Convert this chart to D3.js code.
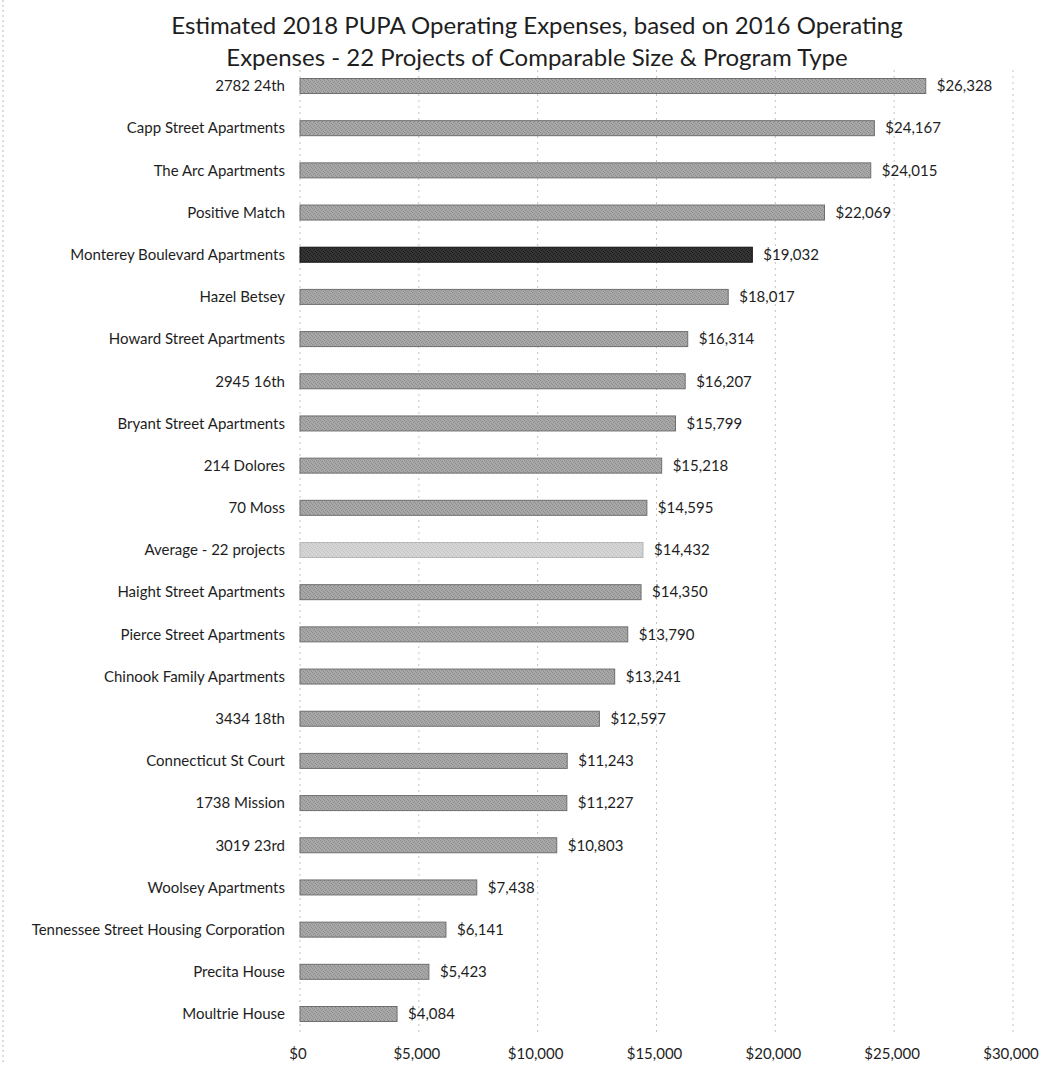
<!DOCTYPE html>
<html>
<head>
<meta charset="utf-8">
<script src="https://cdn.jsdelivr.net/npm/d3@7"></script>
<style>
  body { margin: 0; background: #fff; }
  text { font-family: Lato, "Open Sans", sans-serif; fill: #1e1e1e; }
</style>
</head>
<body>
<script>
const projects = ['2782 24th', 'Capp Street Apartments', 'The Arc Apartments', 'Positive Match',
  'Monterey Boulevard Apartments', 'Hazel Betsey', 'Howard Street Apartments', '2945 16th',
  'Bryant Street Apartments', '214 Dolores', '70 Moss', 'Average - 22 projects',
  'Haight Street Apartments', 'Pierce Street Apartments', 'Chinook Family Apartments', '3434 18th',
  'Connecticut St Court', '1738 Mission', '3019 23rd', 'Woolsey Apartments',
  'Tennessee Street Housing Corporation', 'Precita House', 'Moultrie House']
const expenses = [26328, 24167, 24015, 22069, 19032, 18017, 16314, 16207, 15799, 15218, 14595, 14432,
  14350, 13790, 13241, 12597, 11243, 11227, 10803, 7438, 6141, 5423, 4084]
const ticks = [0, 5000, 10000, 15000, 20000, 25000, 30000]
const highlighted = 'Monterey Boulevard Apartments'
const averageRow = 'Average - 22 projects'

const width = 1046, height = 1065
const barH = 15

const svg = d3.select('body').append('svg')
  .attr('width', width).attr('height', height)

// speckled fill, like the scanned print
const defs = svg.append('defs')
function speckle(id, base, dot) {
  const p = defs.append('pattern').attr('id', id)
    .attr('width', 4).attr('height', 4).attr('patternUnits', 'userSpaceOnUse')
  p.append('rect').attr('width', 4).attr('height', 4).attr('fill', base)
  ;[[0, 0], [2, 1], [3, 3], [1, 2]].forEach(([px, py]) => {
    p.append('rect').attr('x', px).attr('y', py).attr('width', 1).attr('height', 1).attr('fill', dot)
  })
}
speckle('grey', '#a8a8a8', '#8c8c8c')
speckle('dark', '#353535', '#1c1c1c')
speckle('light', '#d5d5d5', '#c4c4c4')

const x = d3.scaleLinear().domain([0, 30000]).range([300, 1013])
const y = d3.scalePoint().domain(projects).range([86, 1014])

// title
svg.append('text').attr('x', 537).attr('y', 34).attr('text-anchor', 'middle')
  .style('font-size', '24px').text('Estimated 2018 PUPA Operating Expenses, based on 2016 Operating')
svg.append('text').attr('x', 537).attr('y', 66).attr('text-anchor', 'middle')
  .style('font-size', '24px').text('Expenses - 22 Projects of Comparable Size & Program Type')

// scan edge
svg.append('line').attr('x1', 3).attr('x2', 3).attr('y1', 0).attr('y2', height)
  .attr('stroke', '#bbb').attr('stroke-dasharray', '2,3')

// gridlines
svg.append('g').selectAll('line').data(ticks).enter().append('line')
  .attr('x1', d => x(d)).attr('x2', d => x(d))
  .attr('y1', 70).attr('y2', 1033)
  .attr('stroke', '#c4c4c4').attr('stroke-dasharray', '2,4')

// bars
svg.append('g').selectAll('rect').data(projects).enter().append('rect')
  .attr('x', x(0))
  .attr('y', d => y(d) - barH / 2)
  .attr('width', (d, i) => x(expenses[i]) - x(0))
  .attr('height', barH)
  .attr('fill', d => d === highlighted ? 'url(#dark)' : d === averageRow ? 'url(#light)' : 'url(#grey)')
  .attr('stroke', d => d === highlighted ? '#111' : d === averageRow ? '#b5b5b5' : '#6e6e6e')
  .attr('stroke-width', 1)

// category labels
svg.append('g').selectAll('text').data(projects).enter().append('text')
  .attr('x', 285)
  .attr('y', d => y(d))
  .attr('dy', '0.35em')
  .attr('text-anchor', 'end')
  .style('font-size', '15px')
  .text(d => d)

// value labels
const fmt = d3.format('$,')
svg.append('g').selectAll('text').data(expenses).enter().append('text')
  .attr('x', d => x(d) + 11)
  .attr('y', (d, i) => y(projects[i]))
  .attr('dy', '0.35em')
  .style('font-size', '15px')
  .text(d => fmt(d))

// x axis labels
svg.append('g').selectAll('text').data(ticks).enter().append('text')
  .attr('x', d => x(d) - 2)
  .attr('y', 1054)
  .attr('dy', '0.35em')
  .attr('text-anchor', 'middle')
  .style('font-size', '15px')
  .text(d => fmt(d))
</script>
</body>
</html>
